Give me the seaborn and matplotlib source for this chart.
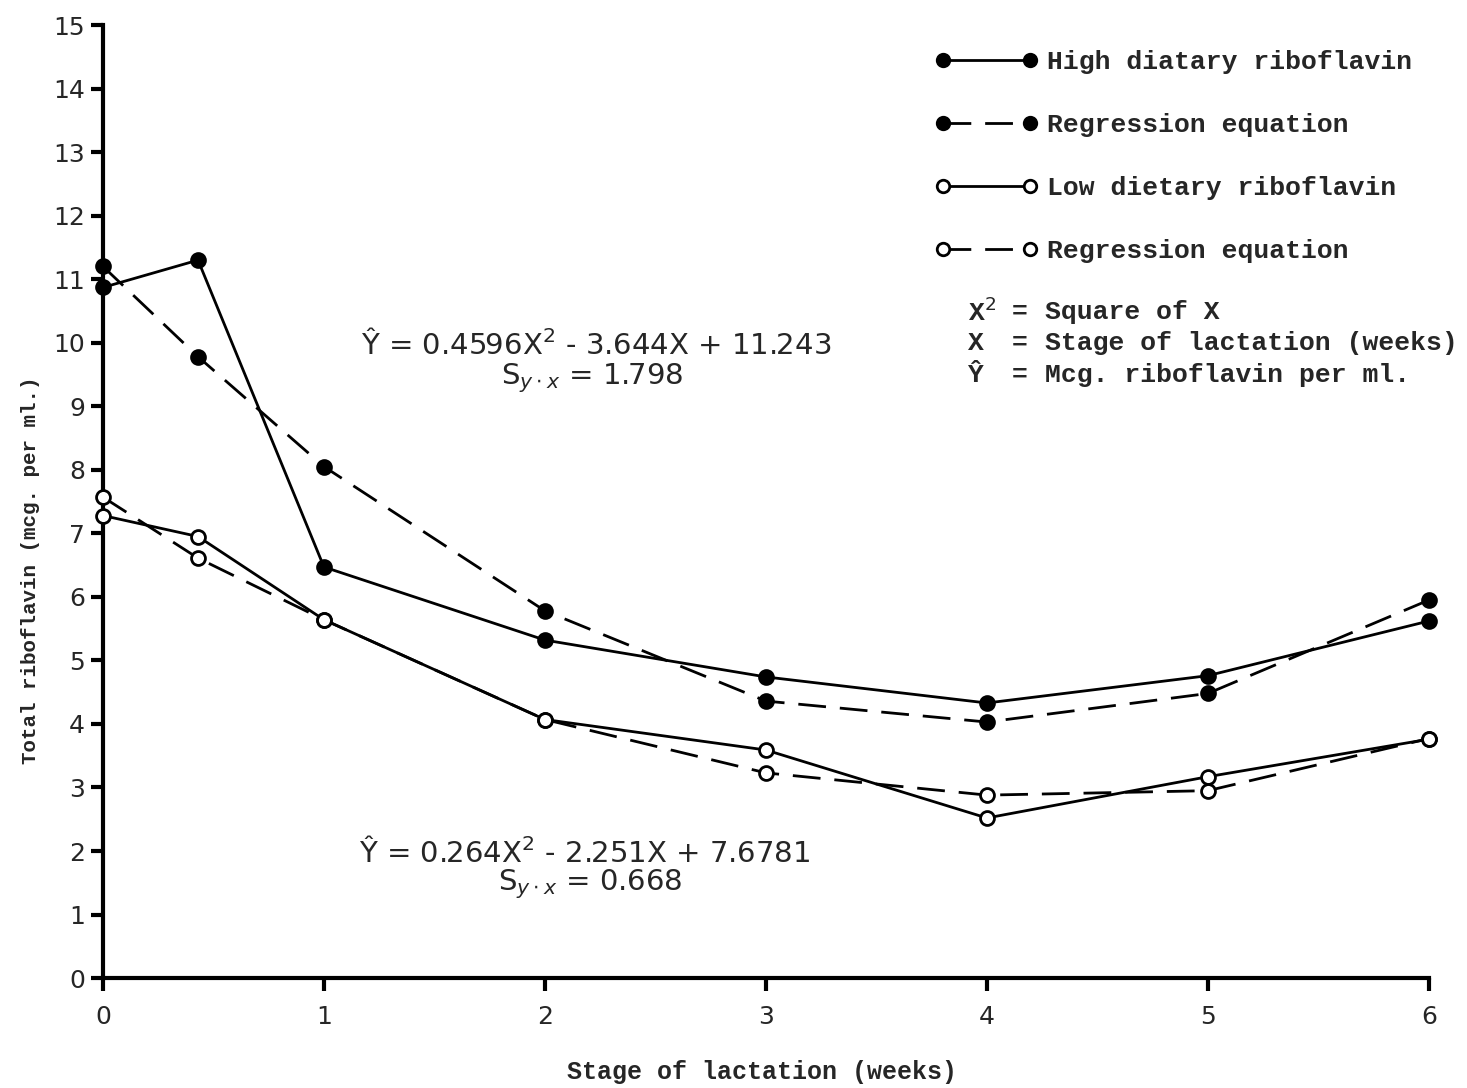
import numpy as np
import pandas as pd
import matplotlib
matplotlib.use("Agg")
import matplotlib.pyplot as plt
from matplotlib.lines import Line2D
import seaborn as sns

# ==========================================================
# DATA
# ==========================================================
weeks = [0, 0.43, 1, 2, 3, 4, 5, 6]

high_observed = [10.87, 11.3, 6.47, 5.32, 4.74, 4.33, 4.76, 5.62]
high_regression = [11.2, 9.78, 8.05, 5.78, 4.36, 4.03, 4.48, 5.95]
low_observed = [7.28, 6.95, 5.64, 4.07, 3.59, 2.52, 3.17, 3.76]
low_regression = [7.57, 6.61, 5.64, 4.07, 3.23, 2.88, 2.95, 3.77]

legend_labels = [
    "High diatary riboflavin",
    "Regression equation",
    "Low dietary riboflavin",
    "Regression equation",
]

x_ticks = [0, 1, 2, 3, 4, 5, 6]
y_ticks = list(range(0, 16))

# ==========================================================
# STYLE
# ==========================================================
sns.set_style("white")
plt.rcParams["font.family"] = ["DejaVu Sans"]
plt.rcParams["mathtext.fontset"] = "dejavusans"
mono = ["Liberation Mono", "DejaVu Sans Mono"]

fig = plt.figure(figsize=(14.67, 10.88), dpi=100)
ax = fig.add_axes([0.0702, 0.101, 0.9038, 0.876])

dash = (0, (10, 5))
series = [
    (high_observed, "-", "black"),
    (high_regression, dash, "black"),
    (low_observed, "-", "white"),
    (low_regression, dash, "white"),
]

for values, ls, face in series:
    sns.lineplot(
        x=weeks, y=values, ax=ax, color="black", linewidth=2.0,
        linestyle=ls, marker="o", markersize=10,
        markerfacecolor=face, markeredgecolor="black", markeredgewidth=2,
        clip_on=False, zorder=3,
    )

ax.set_xlim(0, 6)
ax.set_ylim(0, 15)
ax.set_xticks(x_ticks)
ax.set_yticks(y_ticks)
ax.set_xticklabels([str(t) for t in x_ticks], fontsize=18)
ax.set_yticklabels([str(t) for t in y_ticks], fontsize=18)
ax.tick_params(axis="both", direction="out", length=9, width=3,
               color="black", pad=4, bottom=True, left=True)
ax.tick_params(axis="x", pad=10)

for side in ["top", "right"]:
    ax.spines[side].set_visible(False)
for side in ["left", "bottom"]:
    ax.spines[side].set_linewidth(3)
    ax.spines[side].set_color("black")

# Axis labels
fig.text(0.021, 1 - 570 / 1088, "Total riboflavin (mcg. per ml.)",
         rotation=90, ha="center", va="center", fontsize=15,
         family=mono, fontweight="bold")
fig.text(762 / 1467, 1 - 1072 / 1088, "Stage of lactation (weeks)",
         ha="center", va="center", fontsize=18, family=mono,
         fontweight="bold")

# ==========================================================
# LEGEND
# ==========================================================
handles = []
for values, ls, face in series:
    handles.append(Line2D([], [], color="black", linewidth=2.0, linestyle=ls,
                          marker="o", markersize=9, markerfacecolor=face,
                          markeredgecolor="black", markeredgewidth=2))

leg = ax.legend(handles, legend_labels, loc="upper left",
                bbox_to_anchor=(935 / 1467, 1 - 50 / 1088),
                bbox_transform=fig.transFigure, frameon=False,
                numpoints=2, handlelength=3.9, handletextpad=0.35,
                labelspacing=1.48, borderaxespad=0, borderpad=0,
                prop={"family": mono, "size": 19, "weight": "bold"})

key_lines = [
    ("X$^2$", "Square of X", 312),
    ("X", "Stage of lactation (weeks)", 343),
    ("Ŷ", "Mcg. riboflavin per ml.", 375),
]
for sym, desc, ypix in key_lines:
    fig.text(968 / 1467, 1 - ypix / 1088, sym, ha="left", va="center",
             fontsize=19, family=mono, fontweight="bold")
    fig.text(1012 / 1467, 1 - ypix / 1088, "=", ha="left",
             va="center", fontsize=19, family=mono, fontweight="bold")
    fig.text(1045 / 1467, 1 - ypix / 1088, desc, ha="left",
             va="center", fontsize=19, family=mono, fontweight="bold")

# Regression equations
fig.text(596 / 1467, 1 - 345 / 1088,
         "Ŷ = 0.4596X$^2$ - 3.644X + 11.243",
         ha="center", va="center", fontsize=21)
fig.text(592 / 1467, 1 - 378 / 1088, "S$_{y\\cdot x}$ = 1.798",
         ha="center", va="center", fontsize=21)
fig.text(585 / 1467, 1 - 853 / 1088,
         "Ŷ = 0.264X$^2$ - 2.251X + 7.6781",
         ha="center", va="center", fontsize=21)
fig.text(590 / 1467, 1 - 884 / 1088, "S$_{y\\cdot x}$ = 0.668",
         ha="center", va="center", fontsize=21)

fig.savefig("out.png", dpi=100)
